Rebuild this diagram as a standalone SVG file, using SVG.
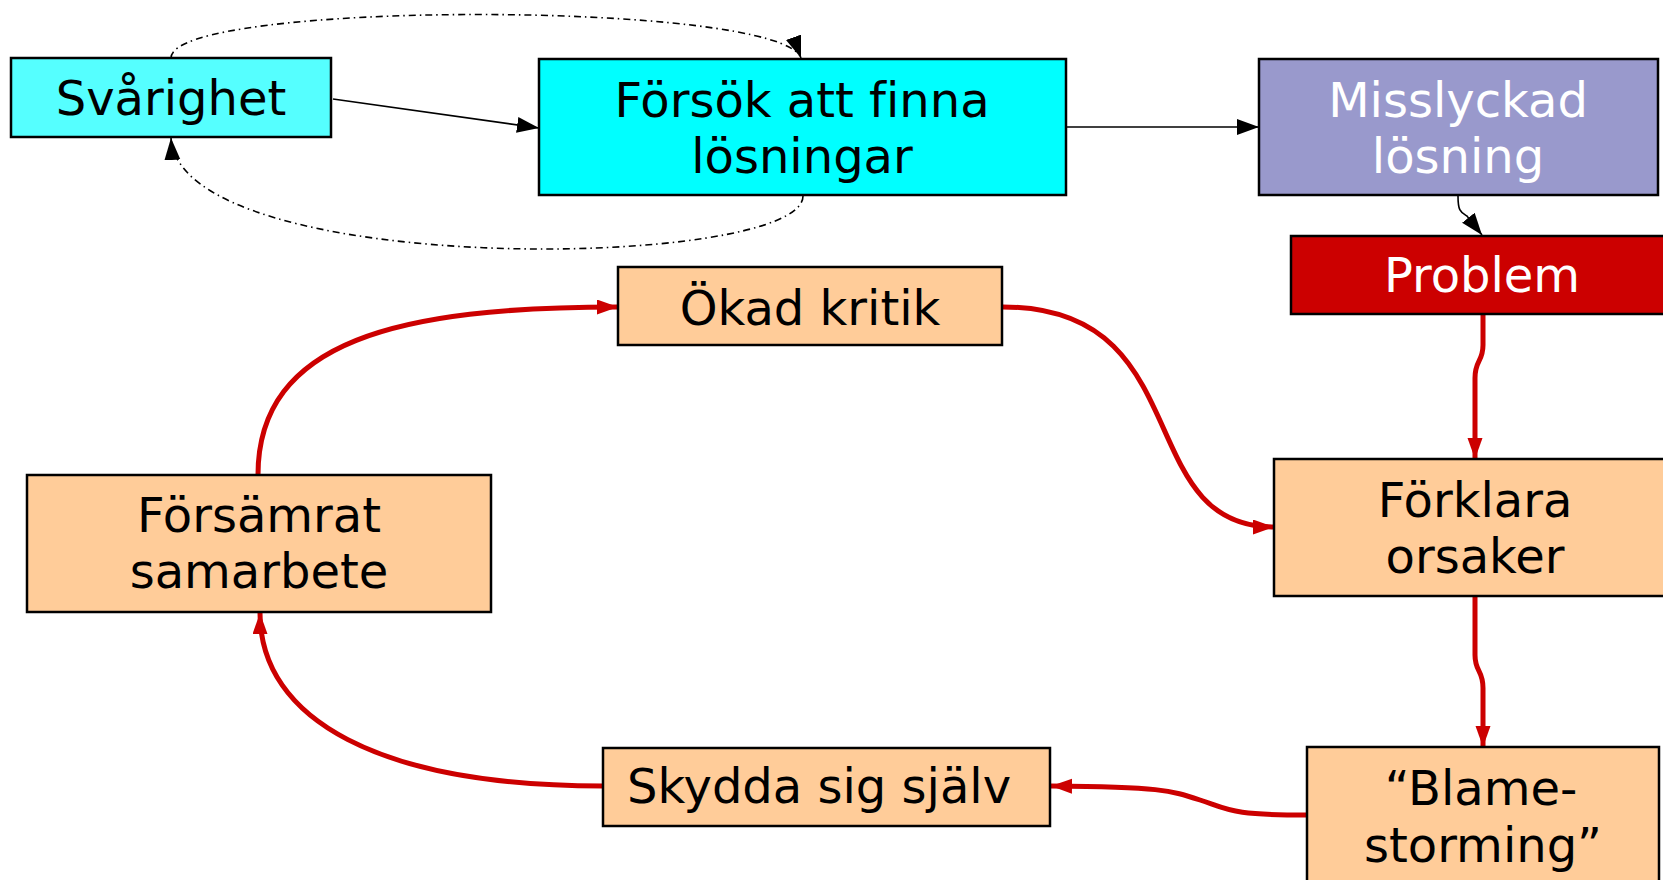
<svg xmlns="http://www.w3.org/2000/svg" width="1663" height="880" viewBox="0 0 1663 880">
<style>
.box{stroke:#000;stroke-width:2.5}
.t{font-family:"DejaVu Sans",Verdana,sans-serif;font-size:48px;text-anchor:middle;fill:#000;font-variant-ligatures:none;font-feature-settings:"liga" 0}
.w{fill:#fff}
.blk{fill:none;stroke:#000;stroke-width:1.6}
.dd{fill:none;stroke:#000;stroke-width:1.6;stroke-dasharray:7 4 1.5 4}
.red{fill:none;stroke:#CC0000;stroke-width:5}
</style>
<defs>
<marker id="ab" markerUnits="userSpaceOnUse" markerWidth="24" markerHeight="18" refX="22" refY="8" orient="auto">
<path d="M0,0 L22,8 L0,16 Z" fill="#000"/>
</marker>
<marker id="ar" markerUnits="userSpaceOnUse" markerWidth="24" markerHeight="18" refX="21" refY="7.5" orient="auto">
<path d="M0,0 L21,7.5 L0,15 Z" fill="#CC0000"/>
</marker>
</defs>
<rect width="1663" height="880" fill="#fff"/>
<g id="connectors">
<path class="blk" d="M333,99 L539,128" marker-end="url(#ab)"/>
<path class="blk" d="M1066,127 L1259,127" marker-end="url(#ab)"/>
<path class="blk" d="M1458,196 C1458,212 1461,212 1467,216 L1482,235" marker-end="url(#ab)"/>
<path class="dd" d="M171,58 C171,0 780,0 801,58" marker-end="url(#ab)"/>
<path class="dd" d="M803,196 C803,270 180,280 171,138" marker-end="url(#ab)"/>
<path class="red" d="M1483,314 L1483,345 C1483,362 1475,360 1475,378 L1475,459" marker-end="url(#ar)"/>
<path class="red" d="M1003,307 C1200,307 1130,527 1274,527" marker-end="url(#ar)"/>
<path class="red" d="M1475,596 L1475,655 C1475,672 1483,670 1483,688 L1483,747" marker-end="url(#ar)"/>
<path class="red" d="M1307,815 C1230,815 1230,810 1200,800 C1170,790 1160,787 1051,786" marker-end="url(#ar)"/>
<path class="red" d="M603,786 C380,786 260,720 260,613" marker-end="url(#ar)"/>
<path class="red" d="M258,475 C258,340 400,307 618,307" marker-end="url(#ar)"/>
</g>
<g id="n-svarighet">
<rect class="box" x="11" y="58" width="320" height="79" fill="#55FFFF"/>
<text class="t" x="171" y="115">Svårighet</text>
</g>
<g id="n-forsok">
<rect class="box" x="539" y="59" width="527" height="136" fill="#00FFFF"/>
<text class="t" x="802" y="117">Försök att finna</text>
<text class="t" x="802" y="173">lösningar</text>
</g>
<g id="n-misslyckad">
<rect class="box" x="1259" y="59" width="399" height="136" fill="#9999CC"/>
<text class="t w" x="1458" y="117">Misslyckad</text>
<text class="t w" x="1458" y="173">lösning</text>
</g>
<g id="n-problem">
<rect class="box" x="1291" y="236" width="380" height="78" fill="#CC0000"/>
<text class="t w" x="1482" y="292">Problem</text>
</g>
<g id="n-okad">
<rect class="box" x="618" y="267" width="384" height="78" fill="#FFCC99"/>
<text class="t" x="810" y="325">Ökad kritik</text>
</g>
<g id="n-forklara">
<rect class="box" x="1274" y="459" width="394" height="137" fill="#FFCC99"/>
<text class="t" x="1475" y="517">Förklara</text>
<text class="t" x="1475" y="573">orsaker</text>
</g>
<g id="n-blame">
<rect class="box" x="1307" y="747" width="352" height="150" fill="#FFCC99"/>
<text class="t" x="1481" y="805">“Blame-</text>
<text class="t" x="1483" y="862">storming”</text>
</g>
<g id="n-skydda">
<rect class="box" x="603" y="748" width="447" height="78" fill="#FFCC99"/>
<text class="t" x="819" y="803">Skydda sig själv</text>
</g>
<g id="n-forsamrat">
<rect class="box" x="27" y="475" width="464" height="137" fill="#FFCC99"/>
<text class="t" x="259" y="532">Försämrat</text>
<text class="t" x="259" y="588">samarbete</text>
</g>
</svg>
